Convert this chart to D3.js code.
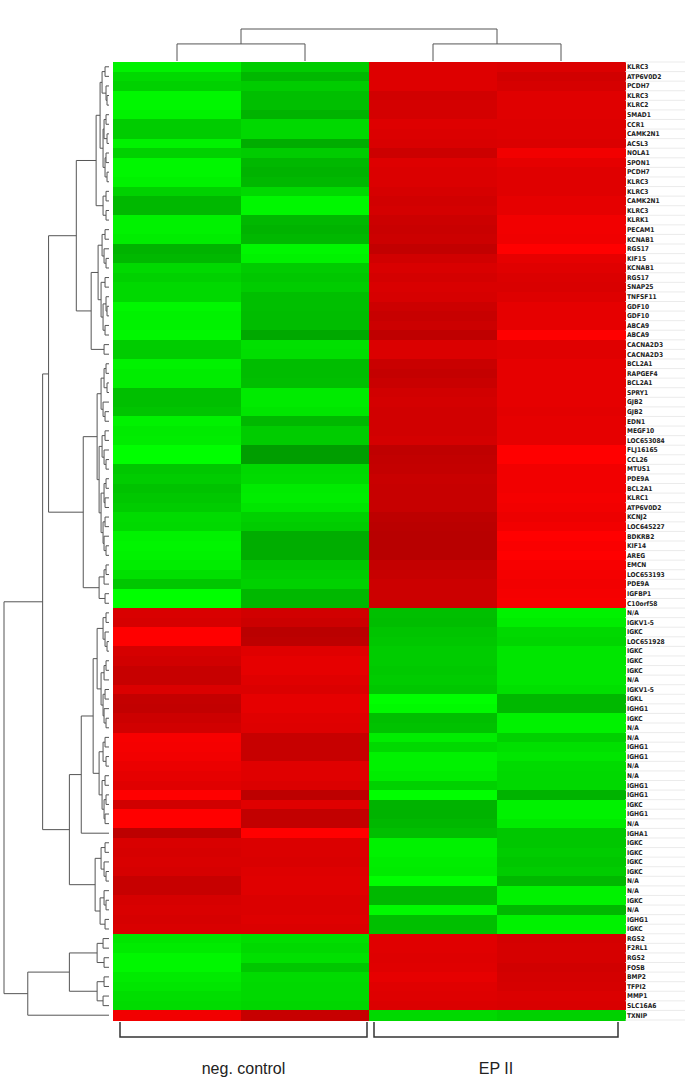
<!DOCTYPE html>
<html><head><meta charset="utf-8">
<script src="https://cdn.jsdelivr.net/npm/d3@7"></script>
<style>body{margin:0;background:#fff}</style>
</head><body><svg id="c" width="685" height="1087"></svg>
<script>
const rowLabels = ["KLRC3","ATP6V0D2","PCDH7","KLRC3","KLRC2","SMAD1","CCR1","CAMK2N1","ACSL3","NOLA1",
"SPON1","PCDH7","KLRC3","KLRC3","CAMK2N1","KLRC3","KLRK1","PECAM1","KCNAB1","RGS17",
"KIF15","KCNAB1","RGS17","SNAP25","TNFSF11","GDF10","GDF10","ABCA9","ABCA9","CACNA2D3",
"CACNA2D3","BCL2A1","RAPGEF4","BCL2A1","SPRY1","GJB2","GJB2","EDN1","MEGF10","LOC653084",
"FLJ16165","CCL26","MTUS1","PDE9A","BCL2A1","KLRC1","ATP6V0D2","KCNJ2","LOC645227","BDKRB2",
"KIF14","AREG","EMCN","LOC653193","PDE9A","IGFBP1","C10orf58","N/A","IGKV1-5","IGKC",
"LOC651928","IGKC","IGKC","IGKC","N/A","IGKV1-5","IGKL","IGHG1","IGKC","N/A",
"N/A","IGHG1","IGHG1","N/A","N/A","IGHG1","IGHG1","IGKC","IGHG1","N/A",
"IGHA1","IGKC","IGKC","IGKC","IGKC","N/A","N/A","IGKC","N/A","IGHG1",
"IGKC","RGS2","F2RL1","RGS2","FOSB","BMP2","TFPI2","MMP1","SLC16A6","TXNIP"];

const columns = ["NC1","NC2","EP1","EP2"];
const groups = ["neg. control","EP II"];
const groupColumns = [["NC1","NC2"],["EP1","EP2"]];

// normalized expression (negative = green, positive = red)
const negControl1 = [-0.95,-0.85,-0.82,-0.97,-0.97,-0.95,-0.80,-0.80,-0.95,-0.82,-0.97,-0.97,-0.95,-0.82,-0.72,-0.72,-0.95,-0.95,-0.93,-0.70,-0.72,-0.85,-0.82,-0.85,-0.85,
-0.97,-0.95,-0.95,-0.97,-0.80,-0.80,-0.95,-0.93,-0.93,-0.75,-0.75,-0.77,-0.95,-0.92,-0.93,-1.00,-1.00,-0.78,-0.80,-0.76,-0.78,-0.80,-0.86,-0.85,-0.95,
-0.96,-0.95,-0.93,-0.88,-0.78,-1.00,-1.00,0.85,0.84,1.00,1.00,0.84,0.82,0.78,0.78,0.86,0.77,0.76,0.80,0.82,0.97,0.96,0.95,0.92,0.90,
0.88,1.00,0.82,1.00,1.00,0.74,0.85,0.84,0.85,0.84,0.78,0.78,0.84,0.85,0.84,0.85,-0.90,-0.92,-0.97,-0.97,-0.92,-0.90,-0.87,-0.86,0.95];
const negControl2 = [-0.80,-0.72,-0.80,-0.75,-0.75,-0.70,-0.85,-0.85,-0.68,-0.80,-0.72,-0.70,-0.72,-0.85,-0.97,-0.97,-0.72,-0.70,-0.72,-0.97,-0.95,-0.80,-0.78,-0.80,-0.75,
-0.75,-0.74,-0.74,-0.66,-0.88,-0.87,-0.74,-0.74,-0.75,-0.92,-0.92,-0.90,-0.72,-0.80,-0.80,-0.62,-0.62,-0.85,-0.86,-0.92,-0.93,-0.90,-0.82,-0.80,-0.68,
-0.68,-0.68,-0.78,-0.80,-0.82,-0.72,-0.72,0.82,0.80,0.73,0.74,0.88,0.90,0.90,0.88,0.86,0.90,0.90,0.88,0.87,0.78,0.78,0.78,0.88,0.88,
0.86,0.74,0.88,0.76,0.76,1.00,0.86,0.86,0.85,0.87,0.88,0.88,0.86,0.86,0.87,0.86,-0.87,-0.85,-0.88,-0.78,-0.86,-0.85,-0.85,-0.84,0.78];
const epII1 = [0.87,0.87,0.87,0.82,0.83,0.83,0.87,0.86,0.85,0.80,0.87,0.86,0.86,0.84,0.82,0.83,0.80,0.79,0.80,0.76,0.82,0.85,0.83,0.85,0.84,
0.80,0.78,0.80,0.75,0.86,0.86,0.79,0.77,0.79,0.82,0.83,0.82,0.82,0.82,0.83,0.75,0.76,0.77,0.79,0.78,0.78,0.78,0.74,0.73,0.72,
0.72,0.72,0.77,0.78,0.80,0.80,0.80,-0.75,-0.74,-0.77,-0.78,-0.80,-0.80,-0.79,-0.80,-0.78,-1.00,-0.98,-0.75,-0.76,-0.93,-0.85,-0.95,-0.95,-0.93,
-0.82,-1.00,-0.70,-0.70,-0.72,-0.75,-0.95,-0.95,-0.93,-0.92,-1.00,-0.72,-0.72,-0.98,-0.75,-0.75,0.88,0.88,0.87,0.88,0.90,0.88,0.87,0.86,-0.85];
const epII2 = [0.86,0.82,0.84,0.88,0.88,0.88,0.87,0.87,0.86,0.95,0.90,0.88,0.88,0.88,0.90,0.90,0.95,0.95,0.94,1.00,0.90,0.88,0.86,0.85,0.87,
0.90,0.90,0.90,1.00,0.88,0.88,0.90,0.90,0.90,0.90,0.90,0.89,0.90,0.90,0.90,1.00,1.00,0.95,0.95,0.95,0.96,0.95,0.93,0.95,1.00,
0.98,1.00,0.97,0.96,0.95,0.96,0.97,-0.95,-0.93,-0.85,-0.84,-0.90,-0.90,-0.90,-0.90,-0.88,-0.72,-0.72,-0.95,-0.95,-0.82,-0.88,-0.90,-0.86,-0.85,
-0.85,-0.70,-0.95,-0.95,-0.92,-0.78,-0.78,-0.80,-0.78,-0.80,-0.72,-0.95,-0.95,-0.72,-0.95,-0.95,0.83,0.84,0.84,0.82,0.83,0.84,0.86,0.85,-0.82];

// row dendrogram: [height, left, right]; leaves are 1-based row numbers
const treeU1a = [13, [9, [7,[4,1,2],[3,3,[2,4,5]]], [6,[5,[3,6,7],[2,8,9]],[4,[3,10,11],[2,12,13]]]], [6,[3,14,15],[3,16,17]]];
const treeU1b = [18, [11, [7,[4,18,19],[5,20,[3,21,22]]], [8,[4,23,24],[6,[3,25,[2,26,27]],[4,28,29]]]], [5,30,31]];
const treeU2 = [26, [12, [8,[5,[3,32,33],[2,34,35]],[6,36,[4,37,38]]], [10,[7,[4,39,40],[5,41,[3,42,43]]],[8,[5,[3,44,45],[4,46,47]],[6,[4,48,49],[5,50,[3,51,52]]]]]],
                 [10,[5,[3,53,54],55],[4,56,57]]];
const treeL1 = [28, [16, [12, [6,[3,58,59],[4,60,[2,61,62]]], [8,[5,[3,63,64],65],[6,[4,66,67],[5,68,[3,69,70]]]]],
                         [10, [6,[4,71,72],[3,73,74]], [7,[4,75,76],[5,[3,77,78],[4,79,80]]]]], 81];
const treeL2 = [14, [8,[4,82,83],[5,84,[3,85,86]]], [9,[5,87,[3,88,89]],[4,90,91]]];
const treeB = [82, [40, [12,[6,92,93],[5,94,95]], [12,[5,96,97],[6,98,99]]], 100];
const rowTree = [106, [67, [61, [33, treeU1a, treeU1b], treeU2], [40, treeL1, treeL2]], treeB];
const colTree = [30, [16, "NC1", "NC2"], [16, "EP1", "EP2"]];

const svg = d3.select("#c");
const values = [negControl1, negControl2, epII1, epII2];
const x = d3.scaleBand().domain(columns).range([113, 625]);
const y = d3.scaleBand().domain(d3.range(rowLabels.length)).range([62, 1020]);
const color = d3.scaleLinear().domain([-1, 0, 1]).range(["#00ff00", "#000000", "#ff0000"]).clamp(true);

// cells
const cells = [];
rowLabels.forEach((lab, i) => columns.forEach((c, j) => cells.push({i, c, v: values[j][i]})));
svg.append("g").selectAll("rect").data(cells).join("rect")
  .attr("x", d => x(d.c)).attr("y", d => y(d.i))
  .attr("width", x.bandwidth() + 0.5).attr("height", y.bandwidth() + 0.5)
  .attr("fill", d => color(d.v)).attr("shape-rendering", "crispEdges");

// label separator lines
svg.append("g").selectAll("line").data(d3.range(rowLabels.length + 1)).join("line")
  .attr("x1", 625).attr("x2", 685)
  .attr("y1", i => 62 + i * y.step()).attr("y2", i => 62 + i * y.step())
  .attr("stroke", "#e2e2e2").attr("stroke-width", 0.7);

// row labels
svg.append("g").selectAll("text").data(rowLabels).join("text")
  .attr("x", 627).attr("y", (d, i) => y(i) + y.bandwidth() / 2)
  .attr("dy", "0.35em")
  .attr("font-family", "'DejaVu Sans Condensed','DejaVu Sans',sans-serif")
  .attr("font-stretch", "condensed")
  .attr("font-weight", "bold").attr("font-size", 6.6).attr("fill", "#222")
  .text(d => d);

// generic dendrogram drawing
function toHier(t) {
  return d3.hierarchy(t, d => Array.isArray(d) ? [d[1], d[2]] : null);
}
function dendro(tree, leafPos, hPos, horizontal) {
  const root = toHier(tree);
  root.eachAfter(n => {
    n.h = n.children ? n.data[0] : 0;
    n.p = n.children ? (n.children[0].p + n.children[1].p) / 2 : leafPos(n.data);
  });
  const segs = [];
  root.each(n => {
    if (!n.children) return;
    const [a, b] = n.children;
    if (horizontal) {
      segs.push([[hPos(n.h), a.p], [hPos(n.h), b.p]]);
      segs.push([[hPos(n.h), a.p], [hPos(a.h), a.p]]);
      segs.push([[hPos(n.h), b.p], [hPos(b.h), b.p]]);
    } else {
      segs.push([[a.p, hPos(n.h)], [b.p, hPos(n.h)]]);
      segs.push([[a.p, hPos(n.h)], [a.p, hPos(a.h)]]);
      segs.push([[b.p, hPos(n.h)], [b.p, hPos(b.h)]]);
    }
  });
  return segs;
}
const rowH = d3.scaleLinear().domain([0, 106]).range([109, 4]);
const rowSegs = dendro(rowTree, r => y(r - 1) + y.bandwidth() / 2, rowH, true);
const colH = d3.scaleLinear().domain([0, 30]).range([61, 29]);
const colSegs = dendro(colTree, c => x(c) + x.bandwidth() / 2, colH, false);
svg.append("g").selectAll("line").data(rowSegs.concat(colSegs)).join("line")
  .attr("x1", d => d[0][0]).attr("y1", d => d[0][1])
  .attr("x2", d => d[1][0]).attr("y2", d => d[1][1])
  .attr("stroke", "#555").attr("stroke-width", 1);

// group brackets and labels
groupColumns.forEach((cols, k) => {
  const x0 = x(cols[0]) + (k === 0 ? 7 : 5);
  const x1 = x(cols[cols.length - 1]) + x.bandwidth() - (k === 0 ? 2 : 7);
  svg.append("path")
    .attr("d", `M${x0},1022V1037H${x1}V1022`)
    .attr("fill", "none").attr("stroke", "#333").attr("stroke-width", 1.5);
  svg.append("text")
    .attr("x", (x0 + x1) / 2).attr("y", 1074)
    .attr("text-anchor", "middle")
    .attr("font-family", "Arial,'Liberation Sans',sans-serif")
    .attr("font-size", 16).attr("fill", "#222")
    .text(groups[k]);
});
</script></body></html>
